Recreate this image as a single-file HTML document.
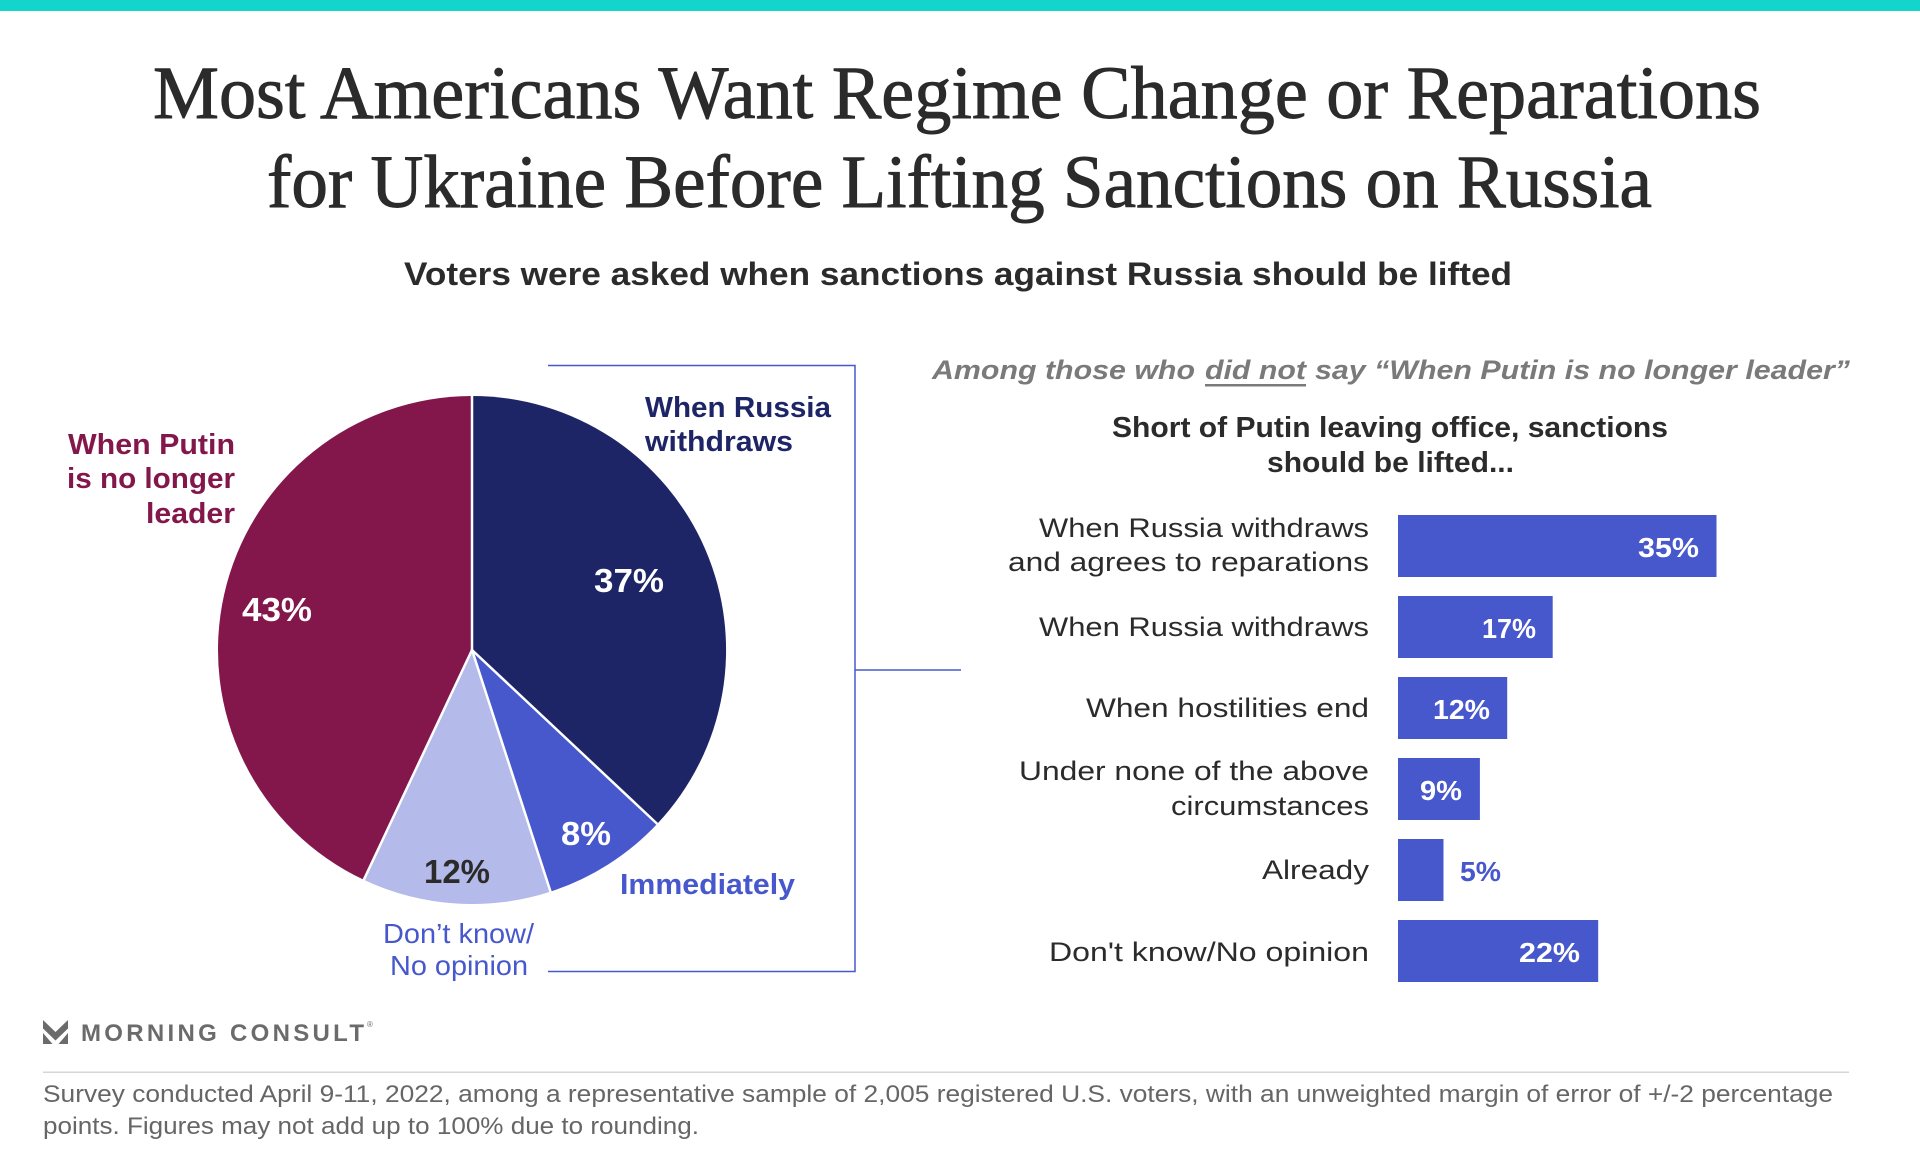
<!DOCTYPE html>
<html>
<head>
<meta charset="utf-8">
<style>
  html,body{margin:0;padding:0;background:#fff;}
  svg{display:block;}
  .sans{font-family:"Liberation Sans", Arial, sans-serif;}
  .serif{font-family:"Liberation Serif", "Times New Roman", serif;}
</style>
</head>
<body>
<svg width="1920" height="1152" viewBox="0 0 1920 1152" xmlns="http://www.w3.org/2000/svg">
  <rect x="0" y="0" width="1920" height="1152" fill="#ffffff"/>
  <!-- top teal bar -->
  <rect x="0" y="0" width="1920" height="11" fill="#14d5cb"/>

  <!-- Title -->
  <text class="serif" x="153" y="118" font-size="75" fill="#2b2b2b" stroke="#2b2b2b" stroke-width="0.9" textLength="1608" lengthAdjust="spacingAndGlyphs">Most Americans Want Regime Change or Reparations</text>
  <text class="serif" x="267" y="207" font-size="75" fill="#2b2b2b" stroke="#2b2b2b" stroke-width="0.9" textLength="1385" lengthAdjust="spacingAndGlyphs">for Ukraine Before Lifting Sanctions on Russia</text>

  <!-- Subtitle -->
  <text class="sans" x="404" y="285" font-size="32" font-weight="bold" fill="#2b2b2b" textLength="1108" lengthAdjust="spacingAndGlyphs">Voters were asked when sanctions against Russia should be lifted</text>

  <!-- Pie -->
  <path d="M472,650 L472,396 A254,254 0 0 1 657.2,823.9 Z" fill="#1e2566"/>
  <path d="M472,650 L657.2,823.9 A254,254 0 0 1 550.5,891.6 Z" fill="#4758cd"/>
  <path d="M472,650 L550.5,891.6 A254,254 0 0 1 363.8,879.8 Z" fill="#b4bae9"/>
  <path d="M472,650 L363.8,879.8 A254,254 0 0 1 472,396 Z" fill="#83174b"/>
  <g stroke="#ffffff" stroke-width="2.5" stroke-linecap="round">
    <line x1="472" y1="650" x2="472" y2="396"/>
    <line x1="472" y1="650" x2="657.2" y2="823.9"/>
    <line x1="472" y1="650" x2="550.5" y2="891.6"/>
    <line x1="472" y1="650" x2="363.8" y2="879.8"/>
  </g>

  <!-- Pie values -->
  <text class="sans" x="242" y="621" font-size="33" font-weight="bold" fill="#ffffff" textLength="70" lengthAdjust="spacingAndGlyphs">43%</text>
  <text class="sans" x="594" y="592" font-size="33" font-weight="bold" fill="#ffffff" textLength="70" lengthAdjust="spacingAndGlyphs">37%</text>
  <text class="sans" x="561" y="845" font-size="33" font-weight="bold" fill="#ffffff" textLength="50" lengthAdjust="spacingAndGlyphs">8%</text>
  <text class="sans" x="424" y="883" font-size="33" font-weight="bold" fill="#2b2b2b" textLength="66" lengthAdjust="spacingAndGlyphs">12%</text>

  <!-- Pie category labels -->
  <text class="sans" x="68" y="454" font-size="29" font-weight="bold" fill="#83174b" textLength="167" lengthAdjust="spacingAndGlyphs">When Putin</text>
  <text class="sans" x="67" y="488" font-size="29" font-weight="bold" fill="#83174b" textLength="168" lengthAdjust="spacingAndGlyphs">is no longer</text>
  <text class="sans" x="146" y="523" font-size="29" font-weight="bold" fill="#83174b" textLength="89" lengthAdjust="spacingAndGlyphs">leader</text>

  <text class="sans" x="645" y="417" font-size="29" font-weight="bold" fill="#1e2566" textLength="186" lengthAdjust="spacingAndGlyphs">When Russia</text>
  <text class="sans" x="645" y="451" font-size="29" font-weight="bold" fill="#1e2566" textLength="148" lengthAdjust="spacingAndGlyphs">withdraws</text>

  <text class="sans" x="620" y="894" font-size="29" font-weight="bold" fill="#4758cd" textLength="175" lengthAdjust="spacingAndGlyphs">Immediately</text>

  <text class="sans" x="383" y="943" font-size="28" fill="#4758cd" textLength="151" lengthAdjust="spacingAndGlyphs">Don’t know/</text>
  <text class="sans" x="390" y="975" font-size="28" fill="#4758cd" textLength="138" lengthAdjust="spacingAndGlyphs">No opinion</text>

  <!-- Bracket -->
  <g stroke="#4758cd" stroke-width="1.5" fill="none">
    <polyline points="548,365.5 855,365.5 855,971.5 548,971.5"/>
    <line x1="855" y1="670" x2="961" y2="670"/>
  </g>

  <!-- Right header -->
  <text class="sans" x="932" y="379" font-size="27" font-weight="bold" font-style="italic" fill="#7a7a7a" textLength="263" lengthAdjust="spacingAndGlyphs">Among those who</text>
  <text class="sans" x="1205" y="379" font-size="27" font-weight="bold" font-style="italic" fill="#7a7a7a" textLength="101" lengthAdjust="spacingAndGlyphs">did not</text>
  <rect x="1205" y="384" width="101" height="2.5" fill="#7a7a7a"/>
  <text class="sans" x="1315" y="379" font-size="27" font-weight="bold" font-style="italic" fill="#7a7a7a" textLength="535" lengthAdjust="spacingAndGlyphs">say “When Putin is no longer leader”</text>

  <text class="sans" x="1112" y="437" font-size="29" font-weight="bold" fill="#2b2b2b" textLength="556" lengthAdjust="spacingAndGlyphs">Short of Putin leaving office, sanctions</text>
  <text class="sans" x="1267" y="472" font-size="29" font-weight="bold" fill="#2b2b2b" textLength="247" lengthAdjust="spacingAndGlyphs">should be lifted...</text>

  <!-- Bars -->
  <g fill="#4758cd">
    <rect x="1398" y="515" width="318.5" height="62"/>
    <rect x="1398" y="596" width="154.7" height="62"/>
    <rect x="1398" y="677" width="109.2" height="62"/>
    <rect x="1398" y="758" width="81.9" height="62"/>
    <rect x="1398" y="839" width="45.5" height="62"/>
    <rect x="1398" y="920" width="200.2" height="62"/>
  </g>

  <!-- Bar category labels -->
  <g class="sans" font-size="27" fill="#2b2b2b">
    <text x="1039" y="537" textLength="330" lengthAdjust="spacingAndGlyphs">When Russia withdraws</text>
    <text x="1008" y="571" textLength="361" lengthAdjust="spacingAndGlyphs">and agrees to reparations</text>
    <text x="1039" y="636" textLength="330" lengthAdjust="spacingAndGlyphs">When Russia withdraws</text>
    <text x="1086" y="717" textLength="283" lengthAdjust="spacingAndGlyphs">When hostilities end</text>
    <text x="1019" y="780" textLength="350" lengthAdjust="spacingAndGlyphs">Under none of the above</text>
    <text x="1171" y="815" textLength="198" lengthAdjust="spacingAndGlyphs">circumstances</text>
    <text x="1262" y="879" textLength="107" lengthAdjust="spacingAndGlyphs">Already</text>
    <text x="1049" y="961" textLength="320" lengthAdjust="spacingAndGlyphs">Don't know/No opinion</text>
  </g>

  <!-- Bar values -->
  <g class="sans" font-size="28" font-weight="bold" fill="#ffffff">
    <text x="1638" y="557" textLength="61" lengthAdjust="spacingAndGlyphs">35%</text>
    <text x="1482" y="638" textLength="54" lengthAdjust="spacingAndGlyphs">17%</text>
    <text x="1433" y="719" textLength="57" lengthAdjust="spacingAndGlyphs">12%</text>
    <text x="1420" y="800" textLength="42" lengthAdjust="spacingAndGlyphs">9%</text>
    <text x="1519" y="962" textLength="61" lengthAdjust="spacingAndGlyphs">22%</text>
  </g>
  <text class="sans" x="1460" y="881" font-size="28" font-weight="bold" fill="#4758cd" textLength="41" lengthAdjust="spacingAndGlyphs">5%</text>

  <!-- Logo -->
  <g fill="#6b6b6b">
    <polygon points="43,1020 55.5,1032 68,1020 68,1028.5 55.5,1040.5 43,1028.5"/>
    <polygon points="43,1033 52.5,1044 43,1044"/>
    <polygon points="68,1033 58.5,1044 68,1044"/>
  </g>
  <text class="sans" x="81" y="1041" font-size="24" font-weight="bold" fill="#6b6b6b" textLength="283" lengthAdjust="spacing">MORNING CONSULT</text>
  <text class="sans" x="367" y="1027" font-size="8" fill="#6b6b6b">®</text>

  <!-- Divider -->
  <rect x="43" y="1071.5" width="1806" height="1.5" fill="#d6d6d6"/>

  <!-- Footnote -->
  <text class="sans" x="43" y="1102" font-size="24.5" fill="#666666" textLength="1790" lengthAdjust="spacingAndGlyphs">Survey conducted April 9-11, 2022, among a representative sample of 2,005 registered U.S. voters, with an unweighted margin of error of +/-2 percentage</text>
  <text class="sans" x="43" y="1134" font-size="24.5" fill="#666666" textLength="656" lengthAdjust="spacingAndGlyphs">points. Figures may not add up to 100% due to rounding.</text>
</svg>
</body>
</html>
